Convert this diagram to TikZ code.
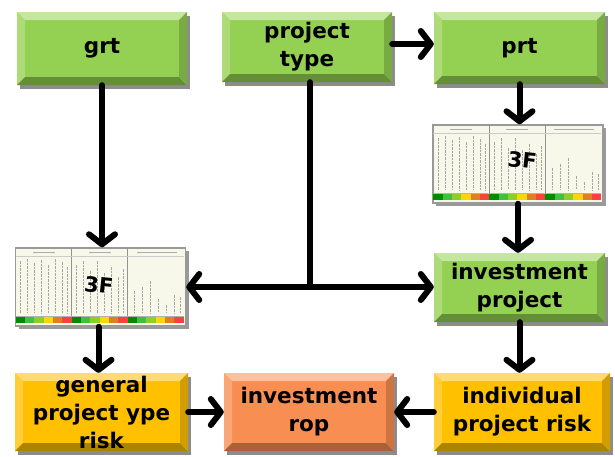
\documentclass[tikz,border=0pt]{standalone}
\usepackage{fontspec}
\setmainfont{DejaVu Sans}
\usetikzlibrary{arrows.meta,calc,shadows}

\definecolor{gface}{HTML}{94D152}
\definecolor{yface}{HTML}{FFC000}
\definecolor{oface}{HTML}{F98E52}
\definecolor{paper}{HTML}{F8F8EA}

% bevelled edges of a button-like box
\newcommand\bevelsides[1]{%
  \def\bb{8pt}%
  \path (path picture bounding box.north west) coordinate (pNW)
        (path picture bounding box.north east) coordinate (pNE)
        (path picture bounding box.south west) coordinate (pSW)
        (path picture bounding box.south east) coordinate (pSE);
  \fill[#1!55!white] (pNW) -- (pNE) -- ($(pNE)+(-\bb,-\bb)$) -- ($(pNW)+(\bb,-\bb)$) -- cycle;
  \fill[#1!78!white] (pNW) -- ($(pNW)+(\bb,-\bb)$) -- ($(pSW)+(\bb,\bb)$) -- (pSW) -- cycle;
  \fill[#1!68!black] (pSW) -- (pSE) -- ($(pSE)+(-\bb,\bb)$) -- ($(pSW)+(\bb,\bb)$) -- cycle;
  \fill[#1!82!black] (pNE) -- (pSE) -- ($(pSE)+(-\bb,\bb)$) -- ($(pNE)+(-\bb,-\bb)$) -- cycle;
}

% small risk-table thumbnail with a named frame
\newcommand\minitable[3]{%
  \node[tablebox] (#1) at (#2,#3) {};
  \begin{scope}[shift={(#1.north west)}]
    % header captions
    \draw[gray!65, line width=1.2pt] (18,5) -- (40,5) (74,5) -- (96,5) (122,5) -- (162,5);
    % column rules
    \draw[gray!85, line width=1pt] (57,1) -- (57,70) (113,1) -- (113,70);
    \draw[gray!40, line width=0.5pt] (1,9) -- (169,9);
    % rotated text entries
    \foreach \x/\t in {6/14,13/12,20/16,27/13,34/18,41/12,48/15,53/20}
      \draw[gray!70, line width=1.4pt, dash pattern=on 2.5pt off 1pt] (\x,\t) -- (\x,66);
    \foreach \x/\t in {62/18,69/14,76/24,83/14,90/26,97/20,104/30,109/22}
      \draw[gray!70, line width=1.4pt, dash pattern=on 2.5pt off 1pt] (\x,\t) -- (\x,66);
    \foreach \x/\t in {120/44,128/40,136/34,144/52,152/58,160/48,166/50}
      \draw[gray!70, line width=1.4pt, dash pattern=on 2.5pt off 1pt] (\x,\t) -- (\x,66);
    % coloured rating strip
    \foreach \c in {0,1,2}{
      \foreach \k/\col in {0/green!55!black,1/green!50!gray,2/yellow!55!green,3/yellow!75!orange,4/orange!75!gray,5/red!75}
        \fill[\col] ({1+\c*56+\k*9.33},69) rectangle ++(9.33,7);
    }
    \draw[gray!60, line width=0.5pt] (1,69) -- (169,69);
  \end{scope}
}

\tikzset{
  boxfont/.style={font=\bfseries\fontsize{21.5}{28}\selectfont},
  bevelbox/.style={rectangle, inner sep=0pt, align=center, boxfont,
    fill=#1, path picture={\bevelsides{#1}},
    drop shadow={shadow xshift=3pt, shadow yshift=-4pt, fill=black, opacity=0.45}},
  tablebox/.style={rectangle, inner sep=0pt, minimum width=170pt, minimum height=78pt,
    fill=paper, draw=gray!80, line width=1.5pt,
    drop shadow={shadow xshift=3pt, shadow yshift=-3pt, fill=black, opacity=0.4}},
  markfont/.style={font=\bfseries\fontsize{21}{21}\selectfont},
  arr/.style={line width=6pt, line cap=round,
    -{Straight Barb[length=10pt, width=26pt, round]}},
  link/.style={line width=6pt, line cap=round},
}

\begin{document}
\begin{tikzpicture}[x=1pt, y=-1pt]
  \useasboundingbox[fill=white] (0,0) rectangle (615,456);

  % top row
  \node[bevelbox=gface, minimum width=170pt, minimum height=73pt] (grt) at (102,48.5) {grt};
  \node[bevelbox=gface, minimum width=170pt, minimum height=70pt] (ptype) at (307,47) {project\\type};
  \node[bevelbox=gface, minimum width=171pt, minimum height=72pt] (prt) at (519.5,48) {prt};

  % rating tables
  \minitable{tabR}{518}{164}
  \node[markfont, rotate=-6] (markR) at ($(tabR.north west)+(90pt,-36pt)$) {3F};
  \minitable{tabL}{100.5}{287}
  \node[markfont, rotate=-6] (markL) at ($(tabL.north west)+(84pt,-38pt)$) {3F};

  \node[bevelbox=gface, minimum width=171pt, minimum height=69pt] (invp) at (519.5,287.5) {investment\\project};

  % bottom row
  \node[bevelbox=yface, minimum width=173pt, minimum height=78pt] (gen) at (101.5,412) {general\\project ype\\risk};
  \node[bevelbox=oface, minimum width=170pt, minimum height=78pt] (rop) at (309,412) {investment\\rop};
  \node[bevelbox=yface, minimum width=176pt, minimum height=78pt] (ind) at (522,412) {individual\\project risk};

  % connectors
  \draw[arr] (grt.south) -- (grt.south |- tabL.north);
  \draw[arr] (ptype.east |- 0,44) -- (prt.west |- 0,44);
  \coordinate (split) at ([xshift=3pt]ptype.south |- tabL.east);
  \draw[link] ([xshift=3pt]ptype.south) -- (split);
  \draw[arr] (split) -- (tabL.east);
  \draw[arr] (split) -- (split -| invp.west);
  \draw[arr] (prt.south) -- (prt.south |- tabR.north);
  \draw[arr] (tabR.south) -- (tabR.south |- invp.north);
  \draw[arr] ([xshift=-2pt]tabL.south) -- ([xshift=-2pt]tabL.south |- gen.north);
  \draw[arr] (invp.south) -- (invp.south |- ind.north);
  \draw[arr] (gen.east) -- (rop.west);
  \draw[arr] (ind.west) -- (rop.east);
\end{tikzpicture}
\end{document}
